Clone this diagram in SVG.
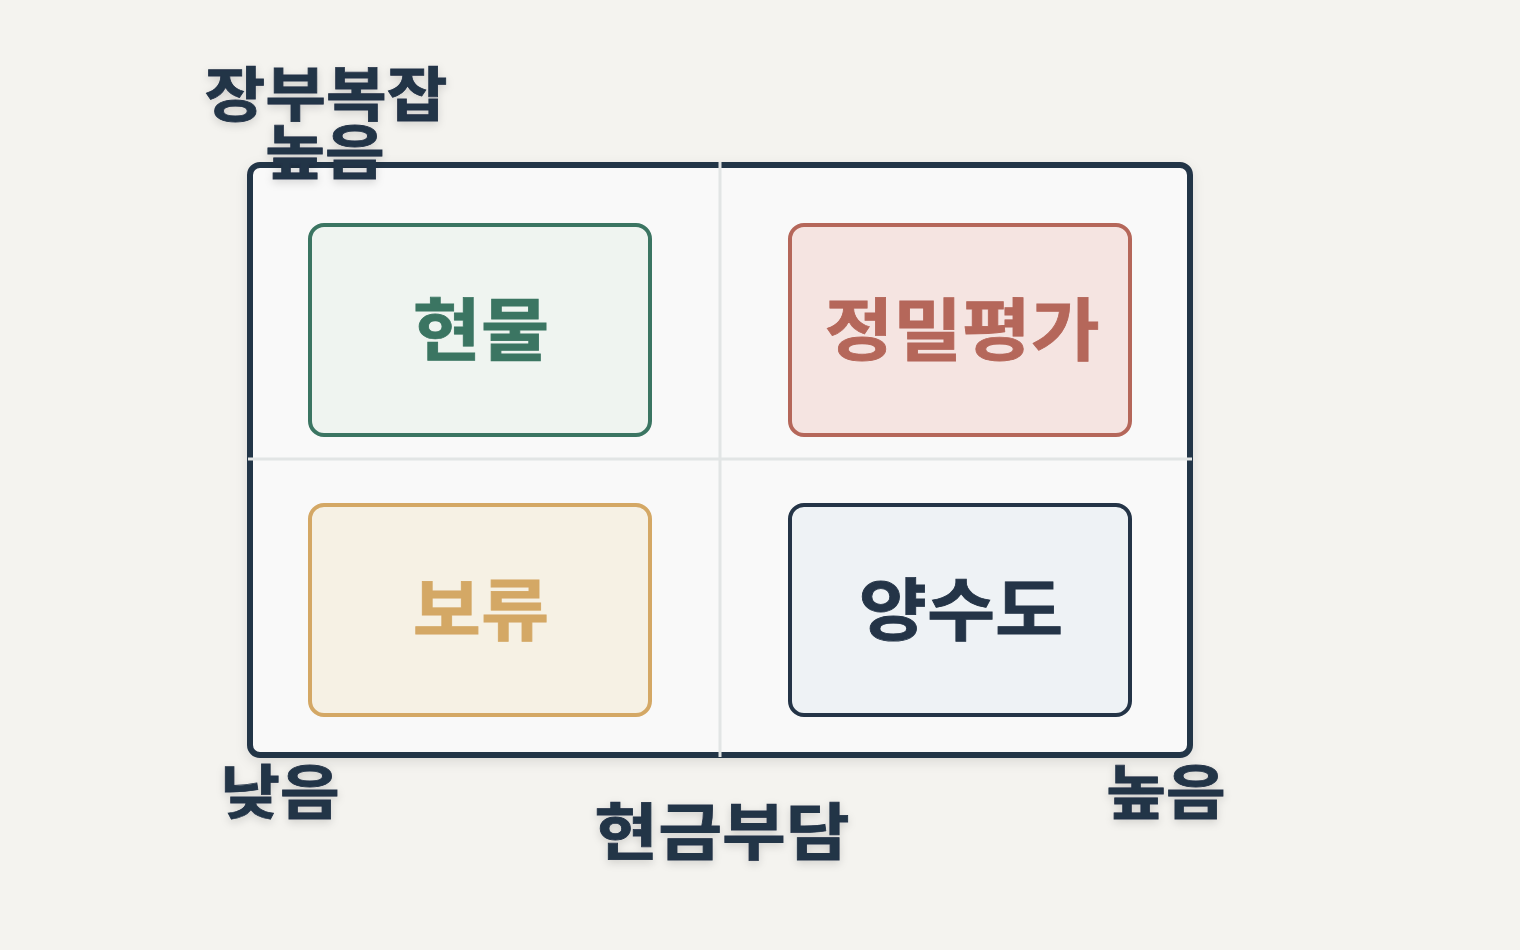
<svg xmlns="http://www.w3.org/2000/svg" width="1520" height="950" viewBox="0 0 1520 950">
<defs>
<filter id="sh" x="-20%" y="-20%" width="140%" height="140%"><feDropShadow dx="0" dy="4" stdDeviation="6" flood-color="#000" flood-opacity="0.10"/></filter>
<filter id="tsh" x="-20%" y="-20%" width="140%" height="160%"><feDropShadow dx="0" dy="3" stdDeviation="4" flood-color="#000" flood-opacity="0.15"/></filter>
</defs>
<style>
text{font-family:"Noto Sans CJK KR","Noto Sans",sans-serif;font-weight:700;text-anchor:middle}
.ax{font-size:59px;fill:#243447;stroke:#243447;stroke-width:0.8}
.q{font-size:68px;stroke-width:0.8}
.box{stroke-width:4}
.grid{stroke:#e2e5e5;stroke-width:3}
</style>
<rect width="1520" height="950" fill="#f4f3ef"/>
<g id="frame">
<rect x="250" y="165" width="940" height="590" rx="10" fill="#f9f9f9" stroke="#243447" stroke-width="6" filter="url(#sh)"/>
</g>
<g id="connectors">
<line class="grid" x1="720" y1="162" x2="720" y2="757"/>
<line class="grid" x1="248" y1="459" x2="1192" y2="459"/>
</g>
<g id="q-tl">
<rect class="box" x="310" y="225" width="340" height="210" rx="14" fill="#eff4f0" stroke="#3b7562"/>
<text class="q" transform="translate(481 355) scale(1.09 1)" fill="#3b7562" stroke="#3b7562">현물</text>
</g>
<g id="q-tr">
<rect class="box" x="790" y="225" width="340" height="210" rx="14" fill="#f5e4e1" stroke="#b5675a"/>
<text class="q" transform="translate(962 355) scale(1.1 1)" fill="#b5675a" stroke="#b5675a">정밀평가</text>
</g>
<g id="q-bl">
<rect class="box" x="310" y="505" width="340" height="210" rx="14" fill="#f6f1e4" stroke="#d4a865"/>
<text class="q" transform="translate(481 635) scale(1.09 1)" fill="#d4a865" stroke="#d4a865">보류</text>
</g>
<g id="q-br">
<rect class="box" x="790" y="505" width="340" height="210" rx="14" fill="#eef2f5" stroke="#243447"/>
<text class="q" transform="translate(961 635) scale(1.09 1)" fill="#243447" stroke="#243447">양수도</text>
</g>
<g id="y-label" filter="url(#tsh)">
<text class="ax" transform="translate(326 116) scale(1.12 1)">장부복잡</text>
<text class="ax" transform="translate(325 174) scale(1.1 1)">높음</text>
</g>
<g id="x-low" filter="url(#tsh)">
<text class="ax" transform="translate(280 814) scale(1.1 1)">낮음</text>
</g>
<g id="x-high" filter="url(#tsh)">
<text class="ax" transform="translate(1166 814) scale(1.1 1)">높음</text>
</g>
<g id="x-label" filter="url(#tsh)">
<text class="ax" transform="translate(722 855) scale(1.12 1)" style="font-size:62px">현금부담</text>
</g>
</svg>
